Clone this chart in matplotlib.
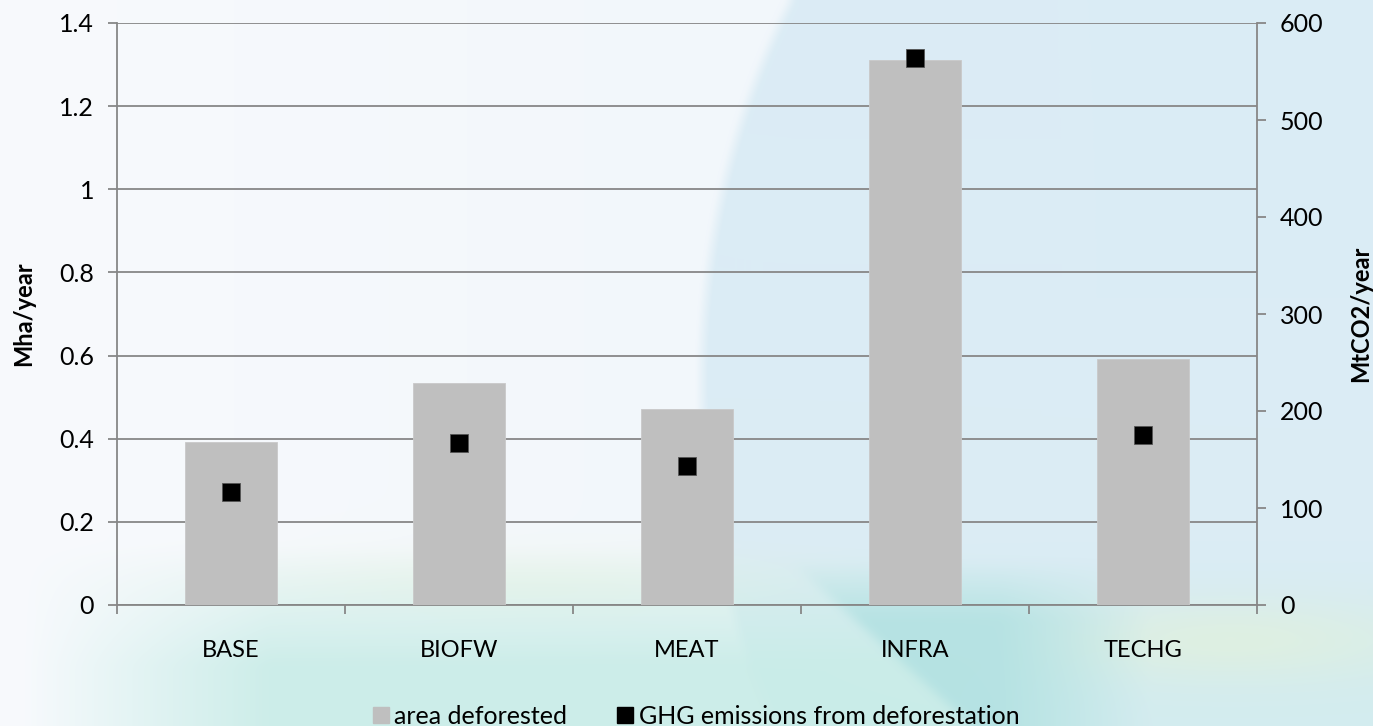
import matplotlib
matplotlib.use("Agg")
import matplotlib.pyplot as plt
from matplotlib.lines import Line2D
import numpy as np

scenarios = ["BASE", "BIOFW", "MEAT", "INFRA", "TECHG"]
area_mha = [0.392, 0.534, 0.472, 1.310, 0.592]      # Mha/year, left axis
ghg_mt = [116.5, 166.7, 143.6, 563.5, 175.0]        # MtCO2/year, right axis

left_ticks = [0, 0.2, 0.4, 0.6, 0.8, 1.0, 1.2, 1.4]
left_ticklabels = ["0", "0.2", "0.4", "0.6", "0.8", "1", "1.2", "1.4"]
right_ticks = [0, 100, 200, 300, 400, 500, 600]

BAR_COLOR = "#bfbfbf"
GRID_COLOR = "#878787"
FONT = ["Lato", "DejaVu Sans"]
FS = 18

plt.rcParams["font.family"] = FONT

W, H = 1373, 726


def hex_rgb(h):
    h = h.lstrip("#")
    return np.array([int(h[i:i + 2], 16) / 255 for i in (0, 2, 4)])


def layer(img, mask, color):
    m = np.clip(mask, 0, 1)[..., None]
    return img * (1 - m) + hex_rgb(color) * m


def box_blur(img, r):
    out = img.copy()
    for axis in (0, 1):
        pad = [(0, 0)] * 3
        pad[axis] = (r, r)
        p = np.pad(out, pad, mode="edge")
        c = np.cumsum(p, axis=axis)
        c = np.concatenate([np.zeros_like(np.take(c, [0], axis=axis)), c], axis=axis)
        n = out.shape[axis]
        out = (np.take(c, np.arange(2 * r + 1, 2 * r + 1 + n), axis=axis)
               - np.take(c, np.arange(0, n), axis=axis)) / (2 * r + 1)
    return out


# slide-style backdrop: pale base, large blue disc on the right, teal wash at the bottom
yy, xx = np.mgrid[0:H, 0:W].astype(float)
bg = np.ones((H, W, 3)) * hex_rgb("#f8fafd")
bg = layer(bg, 0.6 * np.clip(xx / 700, 0, 1), "#eef5fa")

r_disc = ((xx - 1290) / 590) ** 2 + ((yy - 380) / 720) ** 2
inside = np.clip((1 - r_disc) / 0.01, 0, 1)
bg = layer(bg, inside, "#dbecf5")

# faint yellow-green streaks
bg = layer(bg, 0.55 * np.exp(-((xx - 520) / 260) ** 2 - ((yy - 585) / 35) ** 2), "#ecf4e2")

# teal wash along the bottom
wash = np.clip((yy - 545) / 120, 0, 1) * np.clip((xx - 20) / 250, 0, 1)
wash *= np.clip((1250 - xx) / 300, 0.45, 1)
bg = layer(bg, 0.9 * wash, "#c8ece7")
bg = layer(bg, 0.7 * np.exp(-((xx - 1230) / 190) ** 2 - ((yy - 640) / 40) ** 2), "#e2f1dc")

# darker teal band along the lower rim of the disc
rim = (xx - (760 + (yy - 540) * 1.1))
wedge = inside * np.clip((yy - 560) / 60, 0, 1) * np.clip(rim / 15, 0, 1)
wedge *= np.clip((1150 - xx) / 150, 0, 1)
bg = layer(bg, 0.85 * wedge, "#b2e1e2")

bg = box_blur(bg, 6)

fig = plt.figure(figsize=(W / 100, H / 100), dpi=100)
bg_ax = fig.add_axes([0, 0, 1, 1], zorder=-5)
bg_ax.imshow(np.clip(bg, 0, 1), aspect="auto", interpolation="bilinear")
bg_ax.axis("off")

ax = fig.add_axes([117 / W, 1 - 605 / H, (1257 - 117) / W, (605 - 23) / H])
ax.patch.set_alpha(0)

x = np.arange(len(scenarios))
ax.bar(x, area_mha, width=0.4, color=BAR_COLOR, edgecolor="#c9c9c9",
       linewidth=0.6, zorder=3)

ax.set_xlim(-0.5, len(scenarios) - 0.5)
ax.set_ylim(0, 1.4)
ax.set_yticks(left_ticks)
ax.set_yticklabels(left_ticklabels)
ax.yaxis.grid(True, color=GRID_COLOR, linewidth=1.3, zorder=1)
ax.set_axisbelow(True)

ax.set_xticks(x)
ax.set_xticklabels(scenarios, fontsize=FS - 1)
ax.set_xticks(np.arange(-0.5, len(scenarios)), minor=True)
ax.tick_params(axis="x", which="major", length=0, pad=25)
ax.tick_params(axis="x", which="minor", length=6.5, width=1.3, color=GRID_COLOR,
               direction="out")
ax.tick_params(axis="y", length=6.5, width=1.3, color=GRID_COLOR, labelsize=FS,
               pad=10)

for side in ("top", "right"):
    ax.spines[side].set_visible(False)
for side in ("left", "bottom"):
    ax.spines[side].set_color(GRID_COLOR)
    ax.spines[side].set_linewidth(1.3)

ax2 = ax.twinx()
ax2.plot(x, ghg_mt, linestyle="none", marker="s", markersize=13.5,
         markerfacecolor="black", markeredgecolor="#555555", markeredgewidth=0.6,
         zorder=4)
ax2.set_ylim(0, 600)
ax2.set_yticks(right_ticks)
ax2.tick_params(axis="y", length=6.5, width=1.3, color=GRID_COLOR, labelsize=FS,
                pad=10)
for side in ("top", "left", "bottom"):
    ax2.spines[side].set_visible(False)
ax2.spines["right"].set_color(GRID_COLOR)
ax2.spines["right"].set_linewidth(1.3)

# axis titles placed in figure pixels
fig.text(24 / W, 1 - 314 / H, "Mha/year", rotation=90, ha="center", va="center",
         fontsize=FS - 1, fontweight="bold")
fig.text(1361 / W, 1 - 314 / H, "MtCO2/year", rotation=90, ha="center", va="center",
         fontsize=FS - 1, fontweight="bold")

handles = [
    Line2D([], [], linestyle="none", marker="s", markersize=12,
           markerfacecolor=BAR_COLOR, markeredgecolor=BAR_COLOR),
    Line2D([], [], linestyle="none", marker="s", markersize=12,
           markerfacecolor="black", markeredgecolor="black"),
]
fig.legend(handles, ["area deforested", "GHG emissions from deforestation"],
           loc="center", bbox_to_anchor=(0.507, 0.013), ncol=2, frameon=False,
           fontsize=FS, handlelength=0.6, handletextpad=0.25, columnspacing=2.0,
           borderpad=0)

fig.savefig("out.png", dpi=100)
